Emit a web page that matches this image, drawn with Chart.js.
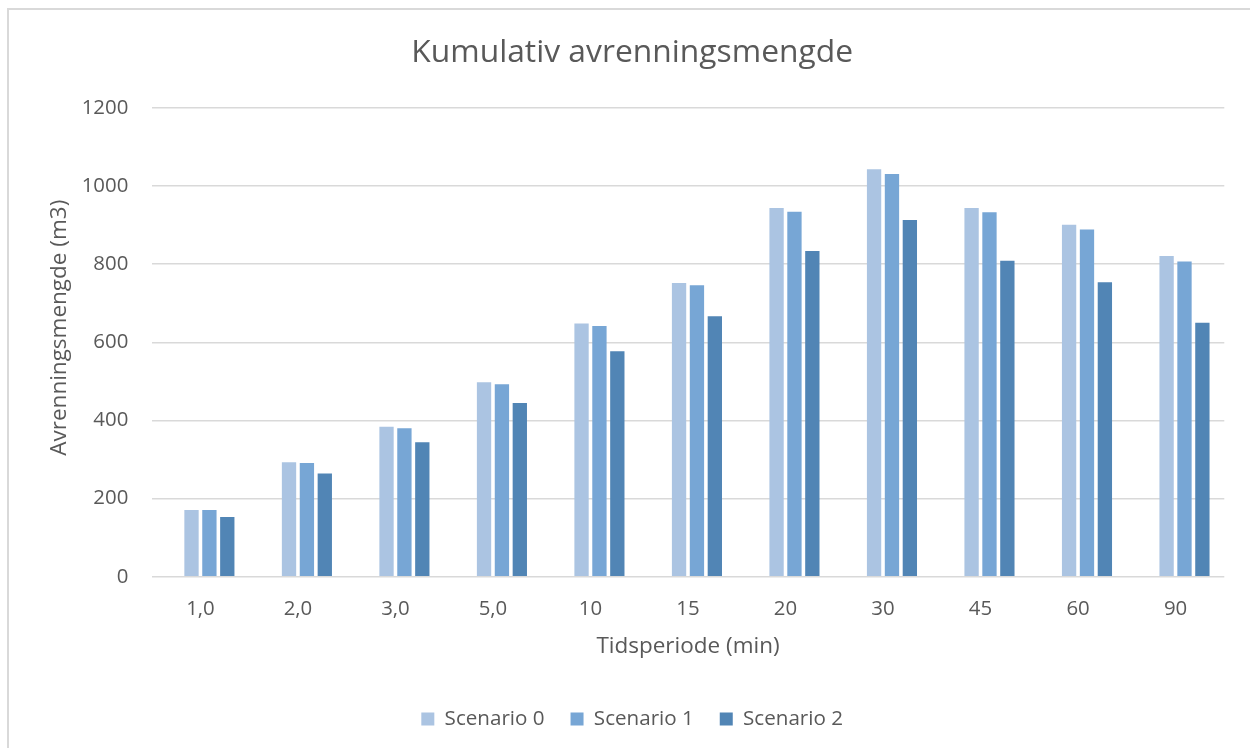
<!DOCTYPE html>
<html lang="no">
<head>
<meta charset="utf-8">
<title>Kumulativ avrenningsmengde</title>
<script src="https://cdn.jsdelivr.net/npm/chart.js@4.4.1/dist/chart.umd.min.js"></script>
<style>
  html, body { margin: 0; padding: 0; background: #ffffff; overflow: hidden; }
  #frame {
    position: absolute; left: 7px; top: 8px; width: 1400px; height: 900px;
    border-left: 2px solid #D9D9D9; border-top: 2px solid #D9D9D9;
    pointer-events: none; box-sizing: border-box;
  }
  canvas { position: absolute; left: 0; top: 0; }
</style>
</head>
<body>
<canvas id="chart" width="1250" height="748"></canvas>
<div id="frame"></div>
<script>
// Tidsperioder (min) på x-aksen
const categories = ['1,0', '2,0', '3,0', '5,0', '10', '15', '20', '30', '45', '60', '90'];

// Kumulativ avrenningsmengde (m3) per scenario
const scenario0 = [171, 293, 384, 498, 648, 752, 944, 1043, 944, 901, 821];
const scenario1 = [171, 291, 380, 493, 642, 746, 934, 1031, 933, 889, 807];
const scenario2 = [153, 264, 344, 445, 577, 667, 834, 913, 809, 754, 650];

// Tom serie som holder første plass i hver gruppe (vises ikke i tegnforklaringen)
const emptySeries = categories.map(() => null);

const seriesNames = ['Scenario 0', 'Scenario 1', 'Scenario 2'];
const seriesColors = ['#ABC4E2', '#77A6D5', '#5185B5'];

const yTicks = { min: 0, max: 1200, step: 200 };

const textColor = '#595959';
const gridColor = '#D9D9D9';
Chart.defaults.font.family = "'Open Sans', 'DejaVu Sans', sans-serif";
Chart.defaults.color = textColor;

const barStyle = { barPercentage: 0.8, categoryPercentage: 0.734, borderWidth: 0 };

const datasets = [
  Object.assign({ label: '', data: emptySeries, backgroundColor: 'rgba(0,0,0,0)' }, barStyle),
  Object.assign({ label: seriesNames[0], data: scenario0, backgroundColor: seriesColors[0] }, barStyle),
  Object.assign({ label: seriesNames[1], data: scenario1, backgroundColor: seriesColors[1] }, barStyle),
  Object.assign({ label: seriesNames[2], data: scenario2, backgroundColor: seriesColors[2] }, barStyle)
];

new Chart(document.getElementById('chart'), {
  type: 'bar',
  data: { labels: categories, datasets: datasets },
  options: {
    responsive: false,
    animation: false,
    layout: { padding: { top: 0, left: 40, right: 25.7, bottom: 8.7 } },
    plugins: {
      title: {
        display: true,
        text: 'Kumulativ avrenningsmengde',
        color: textColor,
        font: { size: 31.8, weight: 'normal' },
        padding: { top: 33.4, bottom: 36.4 }
      },
      legend: {
        position: 'bottom',
        labels: {
          filter: (item) => item.datasetIndex > 0,
          boxWidth: 13,
          boxHeight: 13,
          padding: 26,
          color: textColor,
          font: { size: 20.6 }
        }
      },
      tooltip: { enabled: false }
    },
    scales: {
      x: {
        grid: { display: false, drawTicks: false },
        border: { display: false },
        ticks: { padding: 20.5, color: textColor, font: { size: 20.4 } },
        title: {
          display: true,
          text: 'Tidsperiode (min)',
          color: textColor,
          font: { size: 22.5 },
          padding: { top: 0, bottom: 22.5 }
        },
        afterFit: (scale) => { scale.height = 106; }
      },
      y: {
        min: yTicks.min,
        max: yTicks.max,
        grid: { color: gridColor, lineWidth: 1.6, drawTicks: false },
        border: { display: false },
        ticks: {
          stepSize: yTicks.step,
          padding: 23.4,
          color: textColor,
          font: { size: 20.4 },
          callback: (value) => String(value)
        },
        title: {
          display: true,
          text: '\u00A0\u00A0\u00A0\u00A0\u00A0Avrenningsmengde (m3)',
          color: textColor,
          font: { size: 22.5 },
          padding: { top: 5.8, bottom: 0 }
        },
        afterFit: (scale) => { scale.width = 111.7; }
      }
    }
  }
});
</script>
</body>
</html>
